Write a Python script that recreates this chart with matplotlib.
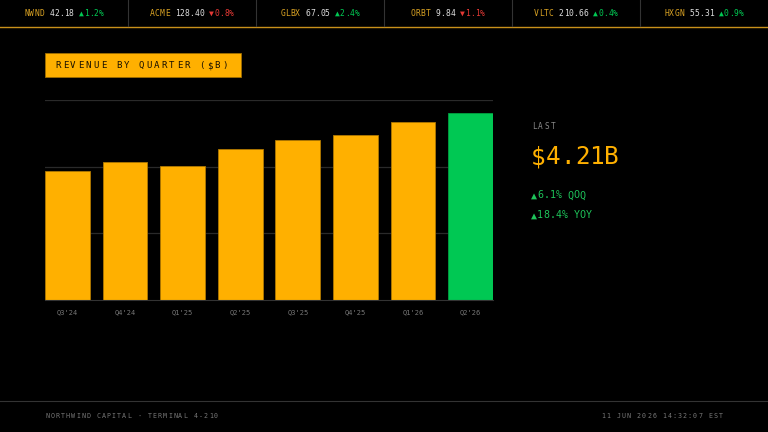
import matplotlib.pyplot as plt
from matplotlib.patches import Rectangle

# data
quarters = ["Q3'24", "Q4'24", "Q1'25", "Q2'25", "Q3'25", "Q4'25", "Q1'26", "Q2'26"]
revenue = [2.90, 3.10, 3.01, 3.40, 3.60, 3.71, 4.00, 4.21]

tickers = ["NWND", "ACME", "GLBX", "ORBT", "VLTC", "HXGN"]
prices = ["42.18", "128.40", "67.05", "9.84", "210.66", "55.31"]
changes = ["▲1.2%", "▼0.8%", "▲2.4%", "▼1.1%", "▲0.4%", "▲0.9%"]

last_value = "$4.21B"
qoq = "▲6.1% QOQ"
yoy = "▲18.4% YOY"

ORANGE = "#FFB000"
GREEN = "#00C853"
RED = "#E53935"
MONO = "DejaVu Sans Mono"

W, H = 768, 432
fig = plt.figure(figsize=(W / 100, H / 100), dpi=100, facecolor="black")


def fx(x):
    return x / W


def fy(y):
    return 1 - y / H


def mono(x, y, s, pitch, size, color):
    # one char at a time, so the letter spacing matches the terminal look
    for i, ch in enumerate(s):
        if ch == " ":
            continue
        fig.text(fx(x + (i + 0.5) * pitch), fy(y), ch, ha="center", va="center",
                 fontsize=size, color=color, family=MONO)


# ticker strip
fig.add_artist(plt.Line2D([0, 1], [fy(26.5), fy(26.5)], color="#c8901a", lw=1.0))
for k in range(1, len(tickers)):
    fig.add_artist(plt.Line2D([fx(128 * k)] * 2, [fy(0), fy(26)], color="#333333", lw=0.8))
pitch = 4.95
for i, (t, p, c) in enumerate(zip(tickers, prices, changes)):
    n = len(t) + len(p) + len(c) + 2
    x0 = 64 + 128 * i - n * pitch / 2
    mono(x0, 13, t, pitch, 5.8, "#d9a223")
    mono(x0 + (len(t) + 1) * pitch, 13, p, pitch, 5.8, "#dddddd")
    col = GREEN if c.startswith("▲") else RED
    mono(x0 + (len(t) + len(p) + 2) * pitch, 13, c, pitch, 5.8, col)

# title box
fig.add_artist(Rectangle((fx(45), fy(77)), fx(241) - fx(45), fy(53) - fy(77),
                         transform=fig.transFigure, facecolor=ORANGE,
                         edgecolor="#a06e00", lw=0.6))
mono(54, 65.5, "REVENUE BY QUARTER ($B)", 7.6, 6.6, "#1a1200")

# bars
ax = fig.add_axes([fx(45), fy(300), fx(493) - fx(45), fy(100) - fy(300)])
ax.set_facecolor("black")
colors = [ORANGE] * (len(revenue) - 1) + [GREEN]
edges = ["#b07800"] * (len(revenue) - 1) + ["#00a040"]
x = list(range(len(quarters)))
ax.bar(x, revenue, width=0.775, color=colors, edgecolor=edges, lw=0.6, zorder=2)
ax.set_xlim(-0.3875, len(quarters) - 1 + 0.3875)
ax.set_ylim(0, 4.5)
ax.set_yticks([1.5, 3.0, 4.5])
ax.yaxis.grid(True, color="#2a2a2a", lw=0.9, zorder=0)
ax.set_axisbelow(True)
ax.tick_params(axis="y", left=False, labelleft=False)
ax.set_xticks(x)
ax.set_xticklabels(quarters, fontsize=5, color="#777777", family=MONO)
ax.tick_params(axis="x", bottom=False, pad=3)
for s in ["top", "left", "right"]:
    ax.spines[s].set_visible(False)
ax.spines["bottom"].set_color("#333333")
ax.spines["bottom"].set_linewidth(0.8)

# right panel
mono(531, 127, "LAST", 6.4, 5.6, "#888888")
mono(531, 157, last_value, 14.6, 17.5, ORANGE)
mono(531, 195.5, qoq, 6.1, 7.2, "#1ec45a")
mono(531, 215.5, yoy, 6.1, 7.2, "#1ec45a")

# footer
fig.add_artist(plt.Line2D([0, 1], [fy(400.5), fy(400.5)], color="#333333", lw=0.8))
left_txt = "NORTHWIND CAPITAL · TERMINAL 4-210"
right_txt = "11 JUN 2026 14:32:07 EST"
mono(45, 416.5, left_txt, 5.1, 4.8, "#777777")
mono(723 - len(right_txt) * 5.1, 416.5, right_txt, 5.1, 4.8, "#777777")

fig.savefig("out.png", dpi=100, facecolor="black")
